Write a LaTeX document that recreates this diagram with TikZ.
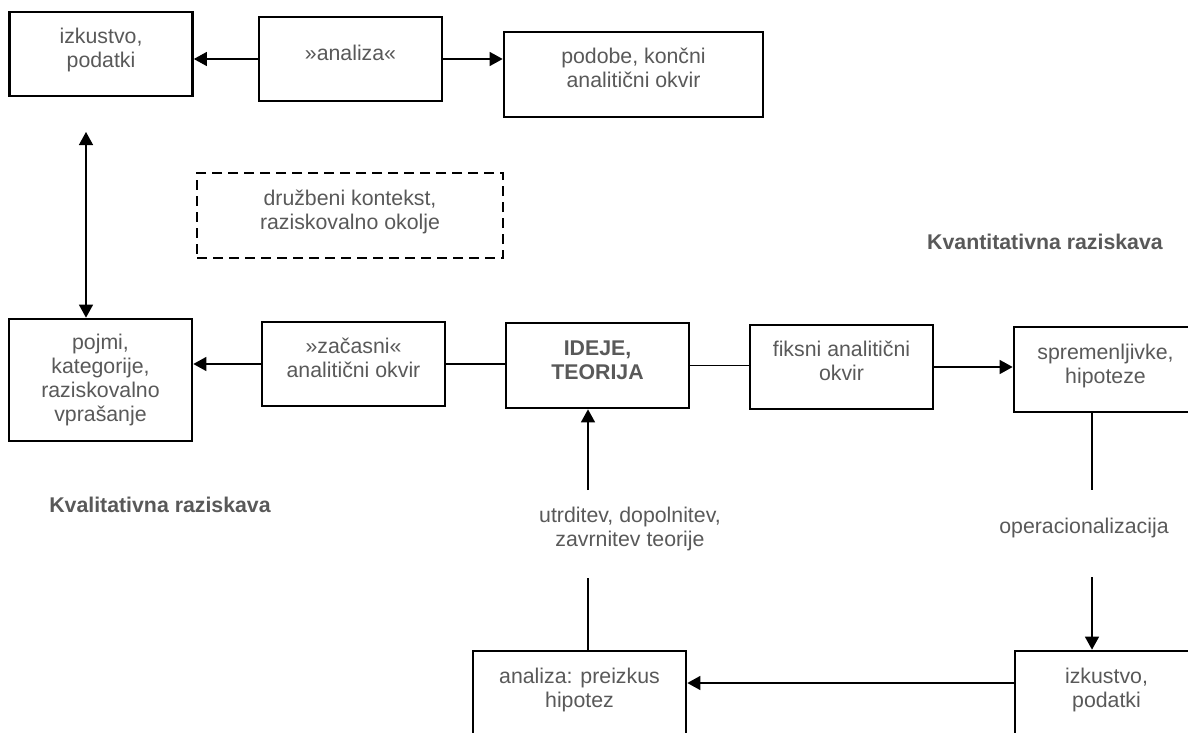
\documentclass[tikz,border=0pt]{standalone}
\usepackage{fontspec}
\setmainfont{Liberation Sans}
\usetikzlibrary{arrows.meta}
\definecolor{txtgray}{HTML}{595959}
\newcommand\up{\rule{0pt}{16pt}}
\newcommand\dn{\rule[-13pt]{0pt}{13pt}}
\begin{document}
\begin{tikzpicture}[x=1pt,y=-1pt,
  every node/.style={font=\fontsize{21.3}{24}\selectfont, text=txtgray, align=center, inner sep=0pt},
  box/.style={draw=black, line width=2.7pt, minimum height=84pt, minimum width=183pt},
  ctx/.style={box, dash pattern=on 10pt off 6pt, minimum width=306pt},
  arr/.style={-{Triangle[length=13pt,width=14pt]}, line width=1.4pt},
  dblarr/.style={{Triangle[length=13pt,width=14pt]}-{Triangle[length=13pt,width=14pt]}, line width=1.4pt},
  ln/.style={line width=1.4pt},
  lbl/.style={font=\fontsize{21.3}{24}\selectfont\bfseries}]
\fill[white] (0,0) rectangle (1188,733);
\clip (0,0) rectangle (1188,733);
% boxes
\node[box] (A) at (101,54) {\up izkustvo,\\podatki\dn};
\node[box] (B) at (350.5,59) {\up »analiza«\dn};
\node[box, minimum width=259pt, minimum height=85pt] (C) at (633.5,74.5) {\up podobe, končni\\analitični okvir\dn};
\node[ctx, minimum height=85pt] (K) at (350,215.5) {\up družbeni kontekst,\\raziskovalno okolje\dn};
\node[box, minimum height=122pt] (D) at (100.5,380) {pojmi,\\kategorije,\\raziskovalno\\vprašanje};
\node[box] (E) at (353.5,364) {\up »začasni«\\analitični okvir\dn};
\node[box, lbl, minimum height=85pt] (F) at (597.5,365.5) {\up IDEJE,\\TEORIJA\dn};
\node[box] (G) at (841.5,367) {\up fiksni analitični\\okvir\dn};
\node[box, minimum height=85pt] (H) at (1105.5,369.5) {\up spremenljivke,\\hipoteze\dn};
\node[box, minimum width=213pt, minimum height=85pt] (I) at (579.5,693.5) {\up analiza: preizkus\\hipotez\dn};
\node[box, minimum height=85pt] (J) at (1106.5,693.5) {\up izkustvo,\\podatki\dn};
% labels
\node[lbl] (qn) at (1045,242) {Kvantitativna raziskava};
\node[lbl] (ql) at (160,505) {Kvalitativna raziskava};
\node (ut) at (630,529) {utrditev, dopolnitev,\\zavrnitev teorije};
\node (op) at (1084,528) {operacionalizacija};
% free ends
\coordinate (vt) at (86,132);
\coordinate (u1) at (588,578);
\coordinate (u2) at (588,490);
\coordinate (h1) at (1092,490);
\coordinate (h2) at (1092,577);
% connectors
\draw[arr] (B.west) -- (B.west -| A.east);
\draw[arr] (B.east) -- (B.east -| C.west);
\draw[dblarr] (vt) -- (vt |- D.north);
\draw[arr] (E.west) -- (E.west -| D.east);
\draw[ln] (E.east) -- (E.east -| F.west);
\draw[ln] (F.east) -- (F.east -| G.west);
\draw[arr] (G.east) -- (G.east -| H.west);
\draw[ln] (h1 |- H.south) -- (h1);
\draw[arr] (h2) -- (h2 |- J.north);
\draw[arr] ([yshift=10.5pt]J.west) -- ([yshift=10.5pt]J.west -| I.east);
\draw[ln] (u1 |- I.north) -- (u1);
\draw[arr] (u2) -- (u2 |- F.south);
\end{tikzpicture}
\end{document}
